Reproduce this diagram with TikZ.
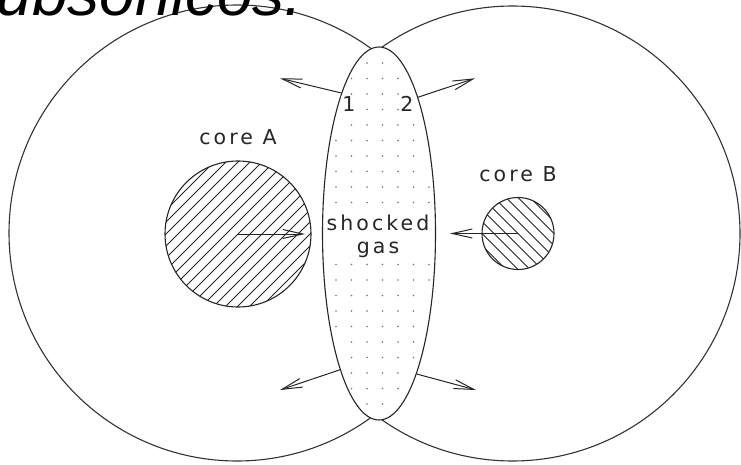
\documentclass[tikz,border=0pt]{standalone}
\usepackage{fontspec}
\setmainfont{DejaVu Sans}[LetterSpace=15]
\newfontfamily\titlefont{Liberation Sans}
\usetikzlibrary{arrows.meta,shapes.geometric,calc}

\tikzset{
  outline/.style={draw=black!80, line width=1.1pt},
  core/.style={circle, draw=black!85, line width=1.1pt, inner sep=0pt},
  hatch/.style={black!85, line width=0.9pt},
  flow/.style={draw=black!85, line width=1pt, -{Straight Barb[length=20pt,width=9pt]}},
  lbl/.style={font=\fontsize{20.5}{23.3}\selectfont, text=black!85, inner sep=0pt},
  digit/.style={lbl, fill=white, inner sep=1pt, anchor=base},
  dotc/.style={fill=black!55},
  gasshape/.style={ellipse, draw=black!85, line width=1.1pt, fill=white,
    minimum width=113pt, minimum height=373pt, inner sep=0pt},
}

\begin{document}
\begin{tikzpicture}[x=1pt,y=-1pt]
\useasboundingbox (0,0) rectangle (741,465);
\fill[white] (0,0) rectangle (741,465);
\clip (0,0) rectangle (741,465);

% outer envelope of the two clouds
\begin{scope}
  \clip (-10,-10) rectangle (375.2,480);
  \draw[outline] (237,233) circle[radius=228];
\end{scope}
\begin{scope}
  \clip (375.2,-10) rectangle (760,480);
  \draw[outline] (512.5,233.5) circle[radius=227.5];
\end{scope}

% cores
\node[core, minimum size=146pt, path picture={
    \foreach \k in {-14,...,14}
      \draw[hatch] ($(path picture bounding box.center)+(\k*12-90,90)$) -- ++(180,-180);
  }] (coreA) at (238,234) {};
\node[core, minimum size=72pt, path picture={
    \foreach \k in {-8,...,8}
      \draw[hatch] ($(path picture bounding box.center)+(\k*12-60,-60)$) -- ++(120,120);
  }] (coreB) at (518,233.5) {};

% shocked gas layer
\node[gasshape] (gas) at (379,233.5) {};
\foreach \k in {0,...,22}{
  \foreach \j in {0,...,6}{
    \pgfmathsetmacro\xx{336+15.5*\j}
    \pgfmathsetmacro\yy{63+15.5*\k}
    \pgfmathtruncatemacro\ok{((((\xx-379)/52.5)^2+((\yy-233.5)/182.5)^2<1) && ((\k<10) || (\k>12))) ? 1 : 0}
    \ifnum\ok=1 \fill[dotc] (\xx,\yy) circle[radius=0.8]; \fi
  }
}

% labels
\node[lbl, align=center] (shock) at (378,236.4) {shocked\\gas};
\node[lbl, anchor=base] (labA) at (238,145) {core A};
\node[lbl, anchor=base] (labB) at (518,182) {core B};
\node[digit] (one) at (349,111.7) {1};
\node[digit] (two) at (407,111.7) {2};

% arrows
\coordinate (tl) at (280,78.3);
\coordinate (tr) at (475,78.3);
\coordinate (bl) at (280,390);
\coordinate (br) at (476,390);
\coordinate (aTip) at (305,234);
\coordinate (bTip) at (450,233.5);
\draw[flow] (gas.105.7) -- (tl);
\draw[flow] (gas.74.3) -- (tr);
\draw[flow] (gas.254.3) -- (bl);
\draw[flow] (gas.285.7) -- (br);
\draw[flow] (coreA.center) -- (aTip);
\draw[flow] (coreB.center) -- (bTip);

% title fragment
\node[font=\titlefont\itshape\fontsize{64}{70}\selectfont, anchor=base east, inner sep=0pt] (title) at (303,16) {subsonicos.};
\end{tikzpicture}
\end{document}
